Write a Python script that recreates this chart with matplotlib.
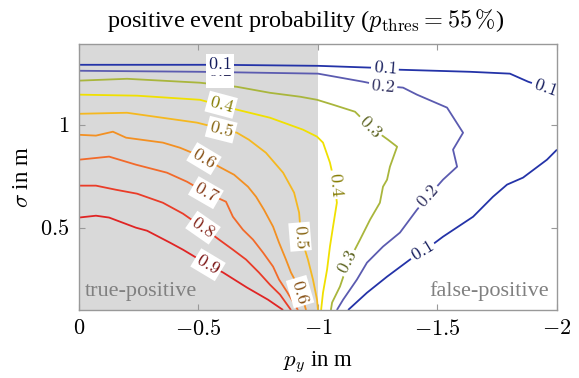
import matplotlib
matplotlib.use("Agg")
import matplotlib.pyplot as plt
import matplotlib.colors as mcolors
import numpy as np

plt.rcParams['mathtext.fontset'] = 'cm'
plt.rcParams['font.family'] = 'serif'
plt.rcParams['font.serif'] = ['Liberation Serif', 'DejaVu Serif']

# contour levels and the polylines (x = p_y, y = sigma)
levels = [0.1, 0.2, 0.3, 0.4, 0.5, 0.6, 0.7, 0.8, 0.9]
line_colors = ['#2433a8', '#5b5bb0', '#a9b63c', '#f0e000', '#f5b820',
               '#f39022', '#f26a2a', '#ea3c28', '#e02424']

c01_top_x = [0, -0.297, -0.582, -1.0, -1.226, -1.343, -1.636, -1.803, -1.879, -1.950, -2.0]
c01_top_y = [1.291, 1.291, 1.291, 1.286, 1.277, 1.267, 1.257, 1.248, 1.209, 1.180, 1.155]
c01_low_x = [-1.126, -1.205, -1.289, -1.385, -1.439, -1.523, -1.649, -1.732, -1.791, -1.858, -1.958, -2.0]
c01_low_y = [0.1, 0.184, 0.262, 0.345, 0.383, 0.456, 0.553, 0.650, 0.709, 0.743, 0.830, 0.879]
c02_x = [0, -0.506, -1.0, -1.188, -1.272, -1.356, -1.414, -1.540, -1.607, -1.565, -1.582,
         -1.523, -1.460, -1.414, -1.343, -1.272, -1.205, -1.163, -1.105, -1.079]
c02_y = [1.262, 1.257, 1.248, 1.209, 1.189, 1.180, 1.146, 1.083, 0.961, 0.879, 0.796,
         0.733, 0.650, 0.587, 0.476, 0.408, 0.330, 0.248, 0.150, 0.1]
c03_x = [0, -0.201, -0.506, -0.661, -0.799, -0.925, -0.996, -1.063, -1.155, -1.218, -1.293,
         -1.331, -1.301, -1.289, -1.272, -1.259, -1.218, -1.176, -1.126, -1.092, -1.059, -1.054]
c03_y = [1.214, 1.223, 1.204, 1.184, 1.155, 1.136, 1.121, 1.097, 1.063, 0.990, 0.927,
         0.893, 0.796, 0.733, 0.699, 0.621, 0.539, 0.442, 0.330, 0.214, 0.136, 0.1]
c04_x = [0, -0.243, -0.506, -0.661, -0.799, -0.937, -0.996, -1.021, -1.050, -1.071, -1.079,
         -1.063, -1.050, -1.038, -1.021, -1.013]
c04_y = [1.146, 1.141, 1.121, 1.073, 1.034, 0.976, 0.942, 0.913, 0.816, 0.709, 0.621,
         0.505, 0.408, 0.296, 0.184, 0.1]
c05_x = [0, -0.201, -0.494, -0.661, -0.711, -0.782, -0.854, -0.900, -0.921, -0.929, -0.958,
         -0.979, -0.996, -1.0]
c05_y = [1.053, 1.058, 1.010, 0.961, 0.927, 0.864, 0.767, 0.670, 0.573, 0.456, 0.345,
         0.248, 0.150, 0.1]
c06_x = [0, -0.071, -0.142, -0.197, -0.351, -0.423, -0.523, -0.586, -0.649, -0.707, -0.741,
         -0.774, -0.812, -0.837, -0.866, -0.887, -0.925, -0.950]
c06_y = [0.951, 0.947, 0.966, 0.937, 0.913, 0.888, 0.840, 0.796, 0.757, 0.699, 0.650,
         0.587, 0.505, 0.427, 0.345, 0.282, 0.199, 0.1]
c07_x = [0, -0.126, -0.238, -0.368, -0.452, -0.531, -0.615, -0.644, -0.686, -0.728, -0.770,
         -0.812, -0.837, -0.870, -0.916]
c07_y = [0.830, 0.845, 0.806, 0.767, 0.723, 0.670, 0.626, 0.553, 0.490, 0.442, 0.379,
         0.311, 0.248, 0.189, 0.1]
c08_x = [0, -0.071, -0.155, -0.243, -0.351, -0.435, -0.519, -0.586, -0.644, -0.699, -0.753,
         -0.799, -0.841, -0.887]
c08_y = [0.704, 0.704, 0.684, 0.665, 0.621, 0.568, 0.500, 0.442, 0.393, 0.345, 0.282,
         0.223, 0.175, 0.1]
c09_x = [0, -0.071, -0.126, -0.238, -0.285, -0.381, -0.435, -0.540, -0.603, -0.703, -0.791, -0.854]
c09_y = [0.549, 0.558, 0.549, 0.500, 0.485, 0.427, 0.393, 0.320, 0.282, 0.209, 0.150, 0.1]

contours = {
    0.1: [(c01_top_x, c01_top_y), (c01_low_x, c01_low_y)],
    0.2: [(c02_x, c02_y)],
    0.3: [(c03_x, c03_y)],
    0.4: [(c04_x, c04_y)],
    0.5: [(c05_x, c05_y)],
    0.6: [(c06_x, c06_y)],
    0.7: [(c07_x, c07_y)],
    0.8: [(c08_x, c08_y)],
    0.9: [(c09_x, c09_y)],
}

# inline label spots (level, x, y)
label_spots = [
    (0.3, -0.590, 1.228), (0.2, -0.590, 1.258), (0.1, -0.590, 1.291),
    (0.4, -0.595, 1.097), (0.5, -0.595, 0.976), (0.6, -0.523, 0.835),
    (0.7, -0.531, 0.670), (0.8, -0.519, 0.500), (0.9, -0.540, 0.320),
    (0.5, -0.925, 0.456), (0.6, -0.925, 0.189), (0.4, -1.075, 0.709),
    (0.3, -1.218, 0.990), (0.3, -1.126, 0.330), (0.2, -1.272, 1.184),
    (0.2, -1.460, 0.650), (0.1, -1.280, 1.272), (0.1, -1.950, 1.180),
    (0.1, -1.439, 0.383),
]

xticks = [0, -0.5, -1, -1.5, -2]
xtick_labels = ['$0$', '$-0.5$', '$-1$', '$-1.5$', '$-2$']
yticks = [0.5, 1]
ytick_labels = ['$0.5$', '$1$']

fig = plt.figure(figsize=(5.79, 3.78), dpi=100)
ax = fig.add_axes([0.1364, 0.1799, 0.8256, 0.7037])
ax.set_xlim(0, -2)
ax.set_ylim(0.1, 1.392)

ax.axvspan(0, -1, color='#d9d9d9', lw=0, zorder=0)

for lev, col in zip(levels, line_colors):
    for xs, ys in contours[lev]:
        ax.plot(xs, ys, color=col, lw=1.3, zorder=2, solid_capstyle='butt')


def line_angle(lev, x, y):
    best = None
    p = ax.transData.transform((x, y))
    for xs, ys in contours[lev]:
        pts = ax.transData.transform(np.column_stack([xs, ys]))
        for a, b in zip(pts[:-1], pts[1:]):
            d = b - a
            t = np.clip(np.dot(p - a, d) / max(np.dot(d, d), 1e-9), 0, 1)
            dist = np.linalg.norm(a + t * d - p)
            if best is None or dist < best[0]:
                best = (dist, d)
    ang = np.degrees(np.arctan2(best[1][1], best[1][0]))
    if ang > 90:
        ang -= 180
    elif ang <= -90:
        ang += 180
    return ang


for i, (lev, x, y) in enumerate(label_spots):
    col = np.array(mcolors.to_rgb(line_colors[levels.index(lev)])) * 0.55
    ang = line_angle(lev, x, y)
    if i < 3:
        ang = 0
    ax.text(x, y, '$%.1f$' % lev, fontsize=13, color=col, rotation=ang,
            rotation_mode='anchor', ha='center', va='center', zorder=3 + i * 0.01,
            clip_on=True,
            bbox=dict(boxstyle='square,pad=0.12', fc='white', ec='none'))

ax.text(0.0125, 0.035, 'true-positive', transform=ax.transAxes, fontsize=16,
        color='#808080', ha='left', va='bottom', zorder=5)
ax.text(0.982, 0.035, 'false-positive', transform=ax.transAxes, fontsize=16,
        color='#808080', ha='right', va='bottom', zorder=5)

ax.set_xticks(xticks)
ax.set_xticklabels(xtick_labels, fontsize=16)
ax.set_yticks(yticks)
ax.set_yticklabels(ytick_labels, fontsize=16)
ax.tick_params(direction='in', length=4, width=0.8, color='#999999',
               top=True, right=True, pad=7)
for s in ax.spines.values():
    s.set_color('#999999')
    s.set_linewidth(1.0)
    s.set_zorder(6)

ax.set_xlabel('$p_y$ in m', fontsize=16.5, labelpad=7)
ax.set_ylabel(r'$\sigma$ in m', fontsize=16.5, labelpad=5)
fig.text(0.528, 0.945, r'positive event probability ($p_{\mathrm{thres}} = 55\,\%$)',
         fontsize=17.5, ha='center', va='center')

fig.savefig('out.png', dpi=100)
